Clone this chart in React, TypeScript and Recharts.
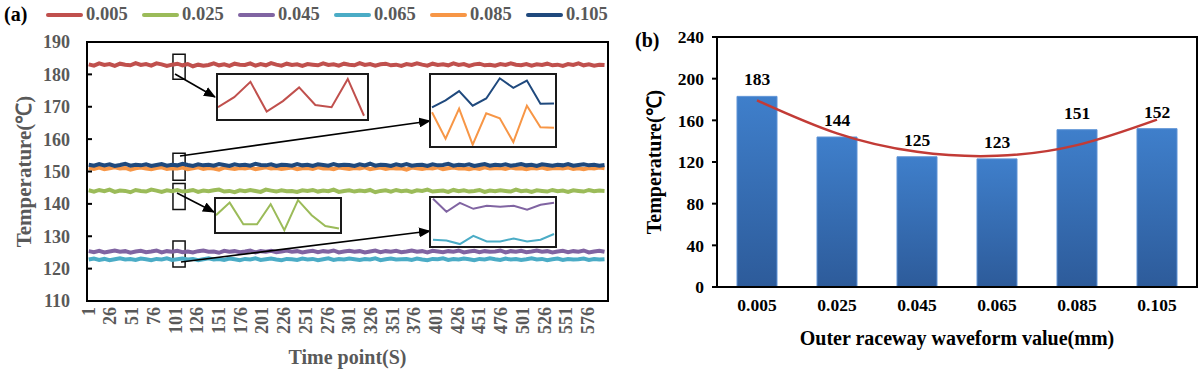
import React from "react";
import {
  LineChart,
  Line,
  XAxis,
  YAxis,
  ReferenceArea,
  Legend,
  ComposedChart,
  Bar,
  LabelList,
} from "recharts";

const FONT = '"Liberation Serif", "Times New Roman", serif';
const GREY = "#595959";

// (a) temperature over time, one reading every 6 s
const SERIES_NAMES = ["0.005", "0.025", "0.045", "0.065", "0.085", "0.105"];
const SERIES_KEYS = ["s005", "s025", "s045", "s065", "s085", "s105"];
const SERIES_COLORS = ["#C0504D", "#9BBB59", "#8064A2", "#4BACC6", "#F79646", "#1F497D"];

const T_005 = [
  183.1, 182.7, 183.4, 182.9, 183.2, 182.6, 183.3, 183.0, 182.8, 183.5,
  182.9, 183.2, 182.7, 183.4, 183.1, 182.6, 183.0, 183.3, 182.8, 183.2,
  182.5, 183.0, 182.7, 182.9, 183.4, 182.8, 183.1, 182.6, 183.3, 183.0,
  182.9, 183.4, 182.7, 183.2, 182.8, 183.5, 183.0, 182.7, 183.3, 182.9,
  183.1, 182.6, 183.2, 183.0, 182.8, 183.4, 182.9, 183.1, 182.7, 183.3,
  183.0, 182.8, 183.5, 182.9, 183.2, 182.7, 183.1, 183.3, 182.8, 183.0,
  182.6, 183.2, 182.9, 183.4, 183.0, 182.7, 183.3, 182.9, 183.1, 182.8,
  183.4, 182.9, 183.2, 182.6, 183.1, 183.3, 182.8, 183.0, 182.7, 183.2,
  182.9, 183.4, 183.0, 182.8, 183.2, 182.7, 183.1, 182.9, 183.3, 182.8,
  183.0, 182.6, 183.2, 182.9, 183.4, 182.8, 183.1, 182.7, 183.0, 182.9,
];
const T_025 = [
  144.2, 143.8, 144.3, 143.9, 144.4, 143.7, 144.1, 144.0, 143.6, 144.3,
  144.0, 143.8, 144.4, 144.1, 143.7, 144.2, 143.9, 144.3, 143.8, 144.0,
  144.3, 143.7, 144.1, 143.9, 144.2, 144.4, 143.8, 144.0, 143.6, 144.2,
  143.9, 144.3, 144.0, 143.7, 144.4, 144.1, 143.8, 144.2, 143.9, 144.0,
  143.7, 144.2, 144.0, 144.3, 143.8, 144.1, 143.9, 144.4, 143.7, 144.0,
  144.2, 143.8, 144.1, 143.9, 144.3, 143.6, 144.0, 144.2, 143.8, 144.3,
  143.9, 144.1, 143.7, 144.2, 144.0, 144.4, 143.8, 144.0, 144.1, 143.7,
  144.3, 143.9, 144.2, 143.8, 144.0, 144.3, 143.7, 144.1, 143.9, 144.2,
  144.0, 143.8, 144.4, 143.9, 144.1, 143.7, 144.2, 144.0, 143.8, 144.3,
  143.9, 144.1, 143.7, 144.2, 144.0, 143.8, 144.3, 143.9, 144.1, 144.0,
];
const T_045 = [
  125.4, 125.1, 125.5, 125.0, 125.3, 125.6, 125.2, 125.4, 124.9, 125.3,
  125.5, 125.1, 125.3, 125.6, 125.0, 125.4, 125.2, 125.5, 125.1, 125.3,
  125.0, 125.4, 125.6, 125.2, 125.3, 124.9, 125.5, 125.2, 125.4, 125.1,
  125.3, 125.6, 125.0, 125.4, 125.2, 125.5, 125.1, 125.3, 125.6, 125.2,
  125.4, 125.0, 125.3, 125.5, 125.1, 125.4, 125.2, 125.6, 125.0, 125.3,
  125.5, 125.2, 125.4, 125.0, 125.3, 125.6, 125.1, 125.4, 125.2, 125.5,
  125.1, 125.3, 125.6, 125.2, 125.4, 125.0, 125.5, 125.3, 125.1, 125.4,
  125.2, 125.6, 125.0, 125.3, 125.5, 125.1, 125.4, 125.2, 125.3, 125.6,
  125.0, 125.4, 125.2, 125.5, 125.1, 125.3, 125.6, 125.2, 125.4, 125.0,
  125.3, 125.5, 125.1, 125.4, 125.2, 125.6, 125.0, 125.3, 125.5, 125.2,
];
const T_065 = [
  122.8, 123.1, 122.7, 123.0, 122.6, 122.9, 123.2, 122.8, 123.0, 122.7,
  123.1, 122.9, 122.6, 123.0, 122.8, 123.2, 122.7, 122.9, 123.1, 122.8,
  123.0, 122.6, 122.9, 123.2, 122.8, 123.0, 122.7, 123.1, 122.9, 122.6,
  123.0, 122.8, 123.2, 122.7, 122.9, 123.1, 122.8, 122.6, 123.0, 122.9,
  122.7, 123.1, 122.8, 123.0, 122.6, 122.9, 123.2, 122.7, 123.0, 122.8,
  123.1, 122.9, 122.7, 123.0, 122.8, 123.2, 122.6, 122.9, 123.1, 122.8,
  122.9, 123.0, 122.7, 123.1, 122.8, 122.6, 123.0, 122.9, 123.2, 122.7,
  123.0, 122.8, 123.1, 122.9, 122.6, 123.0, 122.8, 123.2, 122.9, 122.7,
  123.1, 122.8, 123.0, 122.7, 122.9, 123.2, 122.8, 123.0, 122.6, 122.9,
  123.1, 122.7, 123.0, 122.8, 122.9, 123.1, 122.7, 123.0, 122.8, 122.9,
];
const T_085 = [
  151.1, 150.8, 151.2, 150.7, 151.0, 151.3, 150.9, 151.1, 150.6, 151.0,
  151.2, 150.9, 150.7, 151.1, 151.3, 150.8, 151.0, 150.9, 151.2, 150.7,
  151.0, 151.3, 150.8, 151.1, 150.9, 150.6, 151.2, 151.0, 150.8, 151.1,
  150.9, 151.2, 150.7, 151.0, 151.3, 150.9, 151.1, 150.8, 151.0, 151.2,
  150.7, 151.0, 151.1, 150.8, 151.3, 150.9, 151.0, 150.7, 151.2, 151.0,
  150.8, 151.1, 150.9, 151.3, 150.7, 151.0, 151.2, 150.8, 151.1, 150.9,
  151.0, 150.6, 151.2, 151.0, 150.8, 151.1, 150.9, 151.3, 150.7, 151.0,
  151.2, 150.9, 151.0, 150.7, 151.1, 150.8, 151.3, 150.9, 151.0, 151.1,
  150.8, 151.2, 150.9, 151.0, 150.7, 151.1, 150.9, 151.2, 150.8, 151.0,
  151.1, 150.9, 151.2, 150.8, 151.0, 150.7, 151.1, 150.9, 151.2, 151.0,
];
const T_105 = [
  152.1, 151.8, 152.3, 151.9, 152.2, 151.7, 152.0, 152.4, 151.8, 152.1,
  151.9, 152.2, 151.7, 152.0, 152.3, 151.8, 152.1, 151.9, 152.4, 152.0,
  151.7, 152.2, 151.9, 152.1, 151.8, 152.3, 152.0, 151.7, 152.2, 151.9,
  152.1, 151.8, 152.4, 152.0, 151.9, 152.2, 151.7, 152.1, 152.0, 151.8,
  152.3, 151.9, 152.1, 151.7, 152.2, 152.0, 151.8, 152.3, 151.9, 152.1,
  152.0, 151.7, 152.2, 151.9, 152.4, 151.8, 152.1, 152.0, 151.7, 152.2,
  151.9, 152.3, 151.8, 152.0, 152.1, 151.7, 152.2, 151.9, 152.0, 152.4,
  151.8, 152.1, 151.9, 152.2, 151.7, 152.0, 152.3, 151.8, 152.1, 151.9,
  152.2, 151.8, 152.0, 152.3, 151.9, 152.1, 151.7, 152.2, 152.0, 151.8,
  152.1, 151.9, 152.3, 151.8, 152.0, 152.2, 151.9, 152.1, 151.8, 152.0,
];

const TIME_TICKS = [1, 26, 51, 76, 101, 126, 151, 176, 201, 226, 251, 276, 301, 326, 351, 376, 401, 426, 451, 476, 501, 526, 551, 576];
const TEMP_TICKS_A = [110, 120, 130, 140, 150, 160, 170, 180, 190];

// magnified segments shown in the insets
const ZOOM_005 = [182.71, 183.02, 183.49, 182.58, 182.9, 183.32, 182.78, 182.71, 183.58, 182.45];
const ZOOM_105 = [151.62, 151.83, 152.11, 151.67, 151.89, 152.5, 152.21, 152.43, 151.73, 151.74];
const ZOOM_085 = [151.47, 150.67, 151.58, 150.49, 151.44, 151.29, 150.57, 151.67, 151.02, 151.0];
const ZOOM_025 = [144.11, 144.53, 143.81, 143.81, 144.48, 143.61, 144.61, 144.11, 143.75, 143.67];
const ZOOM_045 = [125.7, 124.83, 125.43, 125.03, 125.23, 125.17, 125.23, 124.97, 125.3, 125.43];
const ZOOM_065 = [122.97, 122.92, 122.68, 123.23, 122.85, 122.85, 123.05, 122.85, 122.97, 123.35];

// (b) mean temperature per waveform value, with quadratic trend
const WAVE_VALUES = ["0.005", "0.025", "0.045", "0.065", "0.085", "0.105"];
const MEAN_TEMPS = [183, 144, 125, 123, 151, 152];
const TREND = [179.2, 147.5, 129.8, 125.9, 136.2, 160.7];
const TEMP_TICKS_B = [0, 40, 80, 120, 160, 200, 240];

const SERIES = [T_005, T_025, T_045, T_065, T_085, T_105];
const lineData = T_005.map((_, i) => {
  const row: any = { t: 1 + i * 6 };
  SERIES_KEYS.forEach((k, j) => (row[k] = SERIES[j][i]));
  return row;
});

const barData = WAVE_VALUES.map((name, i) => ({ name, temp: MEAN_TEMPS[i], trend: TREND[i] }));

const zoomRows = (cols: Record<string, number[]>) =>
  Object.values(cols)[0].map((_, i) => {
    const row: any = { i };
    Object.keys(cols).forEach((k) => (row[k] = cols[k][i]));
    return row;
  });

const axisText = { fill: GREY, fontSize: 18, fontWeight: "bold", fontFamily: FONT } as const;
const axisTextB = { fill: "#000", fontSize: 17.5, fontWeight: "bold", fontFamily: FONT } as const;

const TimeTick = (props: any) => {
  const { x, y, payload } = props;
  return (
    <text
      transform={`translate(${x},${y}) rotate(-90)`}
      textAnchor="end"
      dominantBaseline="central"
      {...axisText}
    >
      {payload.value}
    </text>
  );
};

const rotatedTitle = (dx: number, color: string, size: number) => (props: any) => {
  const vb = props.viewBox;
  const cx = vb.x + dx;
  const cy = vb.y + vb.height / 2;
  return (
    <text
      x={cx}
      y={cy}
      transform={`rotate(-90, ${cx}, ${cy})`}
      textAnchor="middle"
      dominantBaseline="central"
      fill={color}
      fontSize={size}
      fontWeight="bold"
      fontFamily={FONT}
    >
      Temperature(℃)
    </text>
  );
};

const bottomTitle = (text: string, dy: number, color: string) => (props: any) => {
  const vb = props.viewBox;
  return (
    <text
      x={vb.x + vb.width / 2}
      y={vb.y + dy}
      textAnchor="middle"
      dominantBaseline="central"
      fill={color}
      fontSize={20}
      fontWeight="bold"
      fontFamily={FONT}
    >
      {text}
    </text>
  );
};

const renderLegend = (props: any) => (
  <div style={{ display: "flex", fontFamily: FONT, fontWeight: "bold", fontSize: 18.5, color: GREY }}>
    {(props.payload || []).map((p: any) => (
      <div key={p.value} style={{ display: "flex", alignItems: "center", width: 96 }}>
        <span
          style={{ display: "inline-block", width: 37, height: 4, borderRadius: 2, background: p.color, marginRight: 3 }}
        />
        <span>{p.value}</span>
      </div>
    ))}
  </div>
);

function Inset(props: {
  left: number;
  top: number;
  width: number;
  height: number;
  cols: Record<string, number[]>;
  colors: string[];
  domain: [number, number];
  margin: { left: number; right: number };
}) {
  const { left, top, width, height, cols, colors, domain, margin } = props;
  return (
    <div
      style={{
        position: "absolute",
        left,
        top,
        width,
        height,
        border: "2px solid #1a1a1a",
        boxSizing: "border-box",
        background: "#fff",
      }}
    >
      <LineChart
        width={width - 4}
        height={height - 4}
        data={zoomRows(cols)}
        margin={{ top: 0, bottom: 0, left: margin.left, right: margin.right }}
      >
        <XAxis dataKey="i" hide />
        <YAxis hide domain={domain} allowDataOverflow />
        {Object.keys(cols).map((k, j) => (
          <Line key={k} dataKey={k} stroke={colors[j]} strokeWidth={2} dot={false} isAnimationActive={false} />
        ))}
      </LineChart>
    </div>
  );
}

export default function App() {
  return (
    <div style={{ position: "absolute", left: 0, top: 0, width: 1200, height: 375, background: "#fff", fontFamily: FONT }}>
      {/* (a) */}
      <div style={{ position: "absolute", left: 0, top: 0, width: 620, height: 375 }}>
        <LineChart width={620} height={375} data={lineData} margin={{ top: 42, right: 12, bottom: 0, left: 0 }}>
          <XAxis
            dataKey="t"
            type="number"
            domain={[-1, 599]}
            ticks={TIME_TICKS}
            interval={0}
            height={74}
            tickSize={0}
            tickMargin={6}
            tickLine={false}
            axisLine={{ stroke: "#000", strokeWidth: 2 }}
            tick={<TimeTick />}
            label={{ content: bottomTitle("Time point(S)", 56, GREY) }}
          />
          <YAxis
            domain={[110, 190]}
            ticks={TEMP_TICKS_A}
            interval={0}
            width={87}
            tickSize={-5}
            tickMargin={22}
            axisLine={{ stroke: "#000", strokeWidth: 2 }}
            tickLine={{ stroke: "#000", strokeWidth: 2 }}
            tick={axisText}
            label={{ content: rotatedTitle(24, GREY, 21) }}
          />
          <ReferenceArea y1={110} y2={190} fill="none" stroke="#000" strokeWidth={2} />
          {SERIES_KEYS.map((k, i) => (
            <Line
              key={k}
              dataKey={k}
              name={SERIES_NAMES[i]}
              stroke={SERIES_COLORS[i]}
              strokeWidth={4}
              dot={false}
              isAnimationActive={false}
            />
          ))}
          <ReferenceArea x1={98} x2={112} y1={178.5} y2={186.2} fill="none" stroke="#111" strokeWidth={1.5} />
          <ReferenceArea x1={98} x2={112} y1={147.3} y2={155.6} fill="none" stroke="#111" strokeWidth={1.5} />
          <ReferenceArea x1={98} x2={112} y1={138.3} y2={146.3} fill="none" stroke="#111" strokeWidth={1.5} />
          <ReferenceArea x1={98} x2={112} y1={120.5} y2={128.5} fill="none" stroke="#111" strokeWidth={1.5} />
          <Legend
            layout="horizontal"
            verticalAlign="middle"
            align="center"
            content={renderLegend}
            wrapperStyle={{ top: 4, left: 46, width: 580 }}
          />
        </LineChart>

        <svg width={620} height={375} style={{ position: "absolute", left: 0, top: 0, pointerEvents: "none" }}>
          <defs>
            <marker id="ah" markerWidth="12" markerHeight="10" refX="11" refY="5" orient="auto" markerUnits="userSpaceOnUse">
              <path d="M0,0 L12,5 L0,10 z" fill="#000" />
            </marker>
          </defs>
          <line x1={175} y1={74} x2={215} y2={97} stroke="#000" strokeWidth={1.6} markerEnd="url(#ah)" />
          <line x1={180} y1={156} x2={430} y2={121} stroke="#000" strokeWidth={1.6} markerEnd="url(#ah)" />
          <line x1={177} y1={193} x2={214} y2={212} stroke="#000" strokeWidth={1.6} markerEnd="url(#ah)" />
          <line x1={181} y1={262} x2={430} y2={231} stroke="#000" strokeWidth={1.6} markerEnd="url(#ah)" />
        </svg>

        <Inset left={216} top={73} width={153} height={48} cols={{ a: ZOOM_005 }} colors={[SERIES_COLORS[0]]} domain={[182.35, 183.7]} margin={{ left: 0, right: 3 }} />
        <Inset left={429} top={73} width={128} height={75} cols={{ a: ZOOM_105, b: ZOOM_085 }} colors={[SERIES_COLORS[5], SERIES_COLORS[4]]} domain={[150.45, 152.6]} margin={{ left: 1, right: 1 }} />
        <Inset left={214} top={197} width={128} height={37} cols={{ a: ZOOM_025 }} colors={[SERIES_COLORS[1]]} domain={[143.55, 144.65]} margin={{ left: 0, right: 1 }} />
        <Inset left={429} top={196} width={128} height={52} cols={{ a: ZOOM_045, b: ZOOM_065 }} colors={[SERIES_COLORS[2], SERIES_COLORS[3]]} domain={[122.55, 125.75]} margin={{ left: 2, right: 1 }} />

        <div style={{ position: "absolute", left: 4, top: 3, fontSize: 20, fontWeight: "bold", color: "#000" }}>(a)</div>
      </div>

      {/* (b) */}
      <div style={{ position: "absolute", left: 620, top: 0, width: 580, height: 375 }}>
        <ComposedChart width={580} height={375} data={barData} margin={{ top: 37, right: 3, bottom: 0, left: 0 }}>
          <defs>
            <linearGradient id="barGrad" x1="0" y1="0" x2="0" y2="1">
              <stop offset="0" stopColor="#3F7FCB" />
              <stop offset="1" stopColor="#2D5B9A" />
            </linearGradient>
          </defs>
          <XAxis
            dataKey="name"
            height={88}
            tickSize={0}
            tickMargin={12}
            tickLine={false}
            axisLine={{ stroke: "#000", strokeWidth: 2 }}
            tick={axisTextB}
            label={{ content: bottomTitle("Outer raceway waveform value(mm)", 51, "#000") }}
          />
          <YAxis
            domain={[0, 240]}
            ticks={TEMP_TICKS_B}
            interval={0}
            width={97}
            tickSize={5}
            tickMargin={8}
            axisLine={{ stroke: "#000", strokeWidth: 2 }}
            tickLine={{ stroke: "#000", strokeWidth: 2 }}
            tick={axisTextB}
            label={{ content: rotatedTitle(34, "#000", 20) }}
          />
          <ReferenceArea y1={0} y2={240} fill="none" stroke="#000" strokeWidth={2} />
          <Bar dataKey="temp" fill="url(#barGrad)" stroke="#5E93D6" strokeWidth={1} barSize={40} isAnimationActive={false}>
            <LabelList dataKey="temp" position="top" offset={11} {...axisTextB} />
          </Bar>
          <Line dataKey="trend" type="natural" stroke="#C23B36" strokeWidth={2.5} dot={false} isAnimationActive={false} />
        </ComposedChart>
        <div style={{ position: "absolute", left: 15, top: 29, fontSize: 20, fontWeight: "bold", color: "#000" }}>(b)</div>
      </div>
    </div>
  );
}
